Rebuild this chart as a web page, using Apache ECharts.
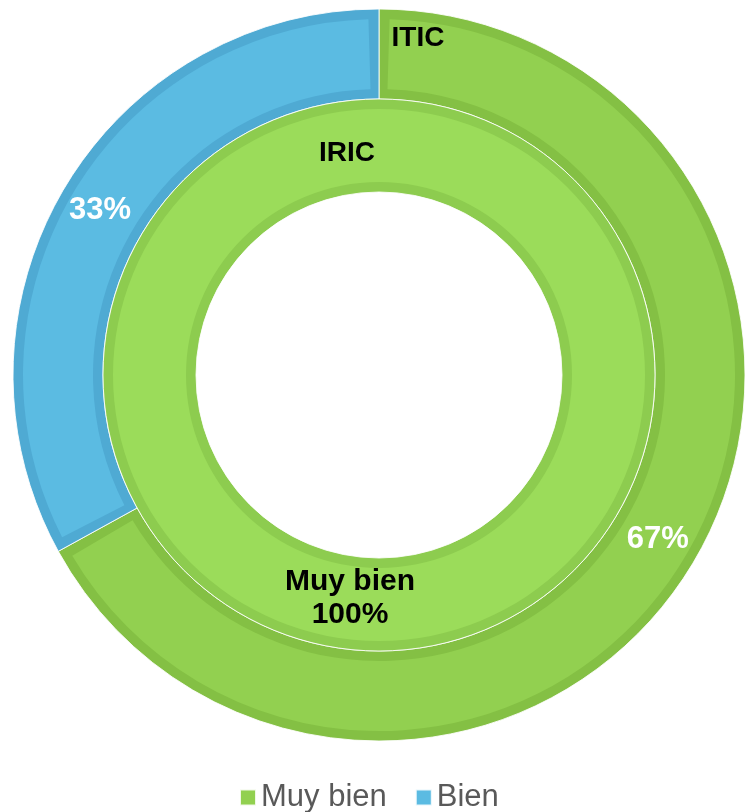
<!DOCTYPE html>
<html>
<head>
<meta charset="utf-8">
<script src="https://cdn.jsdelivr.net/npm/echarts@6/dist/echarts.min.js"></script>
<style>
  html, body { margin: 0; padding: 0; background: #fff; }
  #chart { width: 749px; height: 812px; }
</style>
</head>
<body>
<div id="chart"></div>
<script>
const categories = ['Muy bien', 'Bien'];
const iticValues = [67, 33];   // anillo exterior
const iricValues = [100, 0];   // anillo interior
const ringNames = ['ITIC', 'IRIC'];

const fillColors = ['#92d050', '#5bbbe2'];
const edgeColors = ['#84c044', '#4faad3'];
const innerFill = '#9bdc5a';
const innerEdge = '#8dcc4f';
const FONT = "'Liberation Sans', Arial, sans-serif";

const center = [379, 375];
const PAD = 3.4;

function toData(values, colors) {
	return categories
		.map((name, i) => ({ name: name, value: values[i], itemStyle: { color: colors[i] } }))
		.filter(d => d.value > 0);
}

const chart = echarts.init(document.getElementById('chart'));

chart.setOption({
	animation: false,
	legend: {
		top: 777,
		left: 234,
		icon: 'rect',
		itemWidth: 16,
		itemHeight: 16,
		itemGap: 28,
		textStyle: { fontSize: 31, color: '#595959', fontFamily: FONT },
		data: categories.map((n, i) => ({ name: n, itemStyle: { color: fillColors[i] } }))
	},
	graphic: [
		{
			type: 'text', x: 418, y: 38, z: 100,
			style: { text: ringNames[0], align: 'center', verticalAlign: 'middle',
				fontSize: 28, fontWeight: 'bold', fontFamily: FONT, fill: '#000' }
		},
		{
			type: 'text', x: 347, y: 153, z: 100,
			style: { text: ringNames[1], align: 'center', verticalAlign: 'middle',
				fontSize: 28, fontWeight: 'bold', fontFamily: FONT, fill: '#000' }
		}
	],
	series: [
		// ITIC: borde oscuro
		{
			type: 'pie', name: ringNames[0] + '-base', silent: true,
			center: center, radius: [276, 366], startAngle: 90,
			label: { show: false }, labelLine: { show: false },
			itemStyle: { borderColor: 'rgba(255,255,255,0.85)', borderWidth: 1 },
			data: toData(iticValues, edgeColors)
		},
		// ITIC: relleno
		{
			type: 'pie', name: ringNames[0], silent: true,
			center: center, radius: [286, 356], startAngle: 90, padAngle: PAD,
			labelLine: { show: false },
			label: {
				show: true, position: 'inside', formatter: '{c}%',
				color: '#fff', fontSize: 31, fontWeight: 'bold', fontFamily: FONT
			},
			data: toData(iticValues, fillColors)
		},
		// IRIC: borde oscuro
		{
			type: 'pie', name: ringNames[1] + '-base', silent: true,
			center: center, radius: [183, 276], startAngle: 90,
			label: { show: false }, labelLine: { show: false },
			itemStyle: { borderColor: 'rgba(255,255,255,0.85)', borderWidth: 1 },
			data: toData(iricValues, [innerEdge, innerEdge])
		},
		// IRIC: relleno
		{
			type: 'pie', name: ringNames[1], silent: true,
			center: center, radius: [193, 266], startAngle: 90,
			labelLine: { show: false },
			label: {
				show: true, position: 'inside', formatter: '{b}\n{c}%',
				offset: [-29, -9], lineHeight: 33,
				color: '#000', fontSize: 30, fontWeight: 'bold', fontFamily: FONT
			},
			data: toData(iricValues, [innerFill, innerFill])
		}
	]
});
</script>
</body>
</html>
